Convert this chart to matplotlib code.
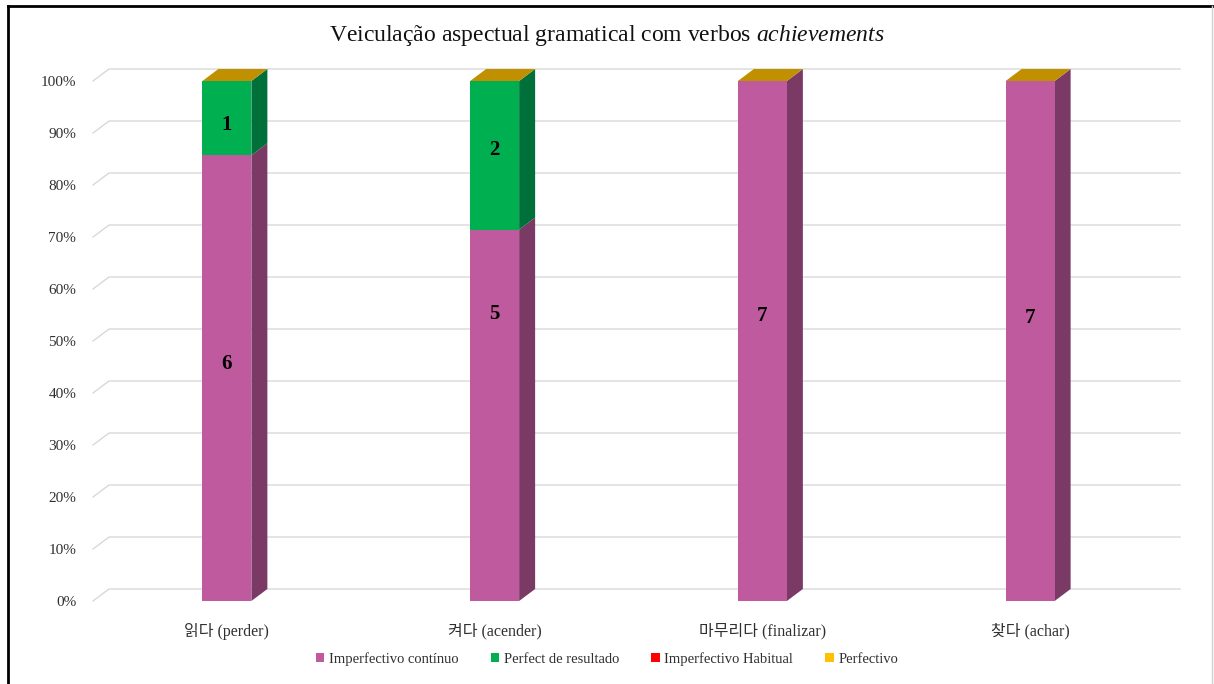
import matplotlib.pyplot as plt
import numpy as np
from matplotlib.patches import Polygon, Patch
from matplotlib.lines import Line2D

plt.rcParams['font.family'] = ['Liberation Serif', 'Noto Sans CJK KR', 'DejaVu Sans']
plt.rcParams['mathtext.fontset'] = 'custom'
plt.rcParams['mathtext.rm'] = 'Liberation Serif'
plt.rcParams['mathtext.it'] = 'Liberation Serif:italic'

# Occurrences per verb and aspect type
verbs = ['읽다 (perder)', '켜다 (acender)', '마무리다 (finalizar)', '찾다 (achar)']
imperf_continuo = np.array([6, 5, 7, 7])
perfect_resultado = np.array([1, 2, 0, 0])
imperf_habitual = np.array([0, 0, 0, 0])
perfectivo = np.array([0, 0, 0, 0])
series_names = ['Imperfectivo contínuo', 'Perfect de resultado',
                'Imperfectivo Habitual', 'Perfectivo']

# label heights (percent) inside the columns
label_y_continuo = [45.5, 55.2, 54.8, 54.4]
label_y_resultado = [91.5, 86.7, None, None]

front_colors = ['#C05A9E', '#00B050', '#FF0000', '#FFC000']
side_colors = ['#7B3A66', '#00703A', '#A00000', '#A07800']
top_color = '#C09000'
grid_color = '#D9D9D9'
text_color = '#303030'

counts = np.vstack([imperf_continuo, perfect_resultado, imperf_habitual, perfectivo])
pct = counts / counts.sum(axis=0) * 100

W, H = 1214, 684
fig = plt.figure(figsize=(W / 100, H / 100), dpi=100)
ax = fig.add_axes([93 / W, 1 - 601 / H, (1164 - 93) / W, (601 - 81) / H])
ax.set_xlim(-0.5, 3.5)
ax.set_ylim(0, 100)

x = np.arange(len(verbs))
bw = 0.183
dx = 16 / 267.75   # depth offset in x units
dy = 12 / 5.2      # depth offset in percent units

# 3D gridlines: side wall diagonal + back wall horizontal
ticks = np.arange(0, 101, 10)
for t in ticks:
    ax.plot([-0.5, -0.5 + dx, 3.5 + dx], [t, t + dy, t + dy], color=grid_color,
            lw=1, clip_on=False, zorder=0)

bottom = np.zeros(len(verbs))
for k in range(4):
    h = pct[k]
    ax.bar(x, h, bottom=bottom, width=bw, color=front_colors[k], zorder=3,
           linewidth=0)
    for i in range(len(verbs)):
        if h[i] <= 0:
            continue
        xr = x[i] + bw / 2
        b = bottom[i]
        side = Polygon([(xr, b), (xr + dx, b + dy), (xr + dx, b + h[i] + dy), (xr, b + h[i])],
                       closed=True, facecolor=side_colors[k], edgecolor='none',
                       zorder=2, clip_on=False)
        ax.add_patch(side)
    bottom = bottom + h

# top faces carry the last stacked series colour
for i in range(len(verbs)):
    xl, xr = x[i] - bw / 2, x[i] + bw / 2
    top = Polygon([(xl, 100), (xr, 100), (xr + dx, 100 + dy), (xl + dx, 100 + dy)],
                  closed=True, facecolor=top_color, edgecolor='none', zorder=4,
                  clip_on=False)
    ax.add_patch(top)

# value labels
for i in range(len(verbs)):
    ax.text(x[i], label_y_continuo[i], str(imperf_continuo[i]), ha='center', va='center',
            fontsize=15, fontweight='bold', zorder=5)
    if perfect_resultado[i] > 0:
        ax.text(x[i], label_y_resultado[i], str(perfect_resultado[i]), ha='center',
                va='center', fontsize=15, fontweight='bold', zorder=5)

ax.set_yticks(ticks)
ax.set_yticklabels([f'{t}%' for t in ticks])
ax.set_xticks(x)
ax.set_xticklabels(verbs)
ax.tick_params(axis='y', length=0, pad=12, labelsize=11, labelcolor=text_color)
ax.tick_params(axis='x', length=0, pad=16, labelsize=11.5, labelcolor=text_color)
for s in ax.spines.values():
    s.set_visible(False)
ax.set_facecolor('none')

fig.text(0.5, 1 - 36 / H, r'Veiculação aspectual gramatical com verbos $achievements$',
         ha='center', va='center', fontsize=17, color='#111111')

handles = [Patch(facecolor=c, edgecolor='none') for c in front_colors]
fig.legend(handles, series_names, loc='center', bbox_to_anchor=(0.5, 1 - 659 / H),
           ncol=4, frameon=False, fontsize=10.5, handlelength=0.6, handleheight=0.6,
           handletextpad=0.3, columnspacing=2.2, labelcolor=text_color)

# chart frame
fig.add_artist(Line2D([8 / W, 8 / W], [0, 1 - 6 / H], color='black', lw=2))
fig.add_artist(Line2D([8 / W, 1], [1 - 6 / H, 1 - 6 / H], color='black', lw=2))
fig.add_artist(Line2D([1212 / W, 1212 / W], [0, 1 - 6 / H], color='#D0D0D0', lw=1))

fig.savefig('out.png', dpi=100)
